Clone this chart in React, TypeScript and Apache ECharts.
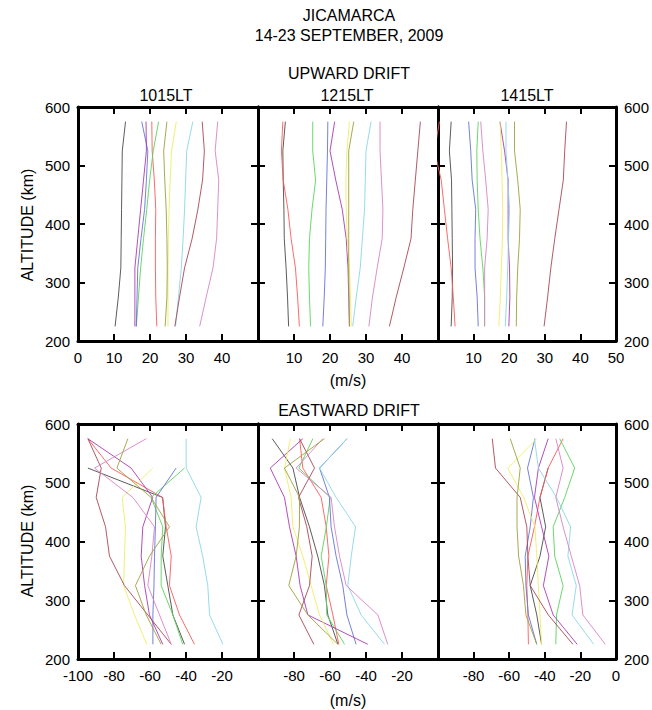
import React, { useEffect, useRef } from "react";
import * as echarts from "echarts";

// Altitudes (km) of profile samples, bottom to top
const ALTITUDES = [225, 275, 325, 375, 425, 475, 525, 575];

// Line colors, in order used by every panel's rows
const LINE_COLORS = [
  "#4a4a4a", // black
  "#ff5a5a", // red
  "#5cd45c", // green
  "#6674d4", // blue
  "#a83cb0", // purple
  "#eeee66", // yellow
  "#8cd6e8", // cyan
  "#a84858", // brown
  "#d884c8", // pink
  "#a0a040", // olive
];

// Upward drift (m/s)
const UP_1015 = [
  [10.3, 11.2, 11.9, 12.0, 12.1, 12.2, 12.3, 13.2],
  [21.9, 21.6, 21.5, 21.5, 21.6, 21.2, 20.6, 20.5],
  [16.2, 16.8, 17.4, 18.2, 19.1, 19.9, 20.9, 22.4],
  [16.2, 16.4, 16.6, 17.5, 18.5, 19.0, 19.4, 17.7],
  [15.8, 15.8, 15.8, 16.6, 17.4, 18.2, 19.0, 18.9],
  [25.0, 25.0, 25.0, 25.1, 25.3, 25.6, 26.0, 27.3],
  [27.1, 27.9, 28.7, 29.2, 29.6, 29.9, 30.2, 31.9],
  [26.9, 28.2, 29.6, 31.7, 33.3, 34.6, 35.1, 34.5],
  [33.8, 35.6, 37.5, 38.5, 38.8, 39.1, 38.1, 38.8],
  [24.2, 24.7, 24.8, 24.7, 24.5, 24.1, 23.8, 24.7],
];
const UP_1215 = [
  [8.5, 8.2, 7.8, 7.3, 7.2, 7.0, 6.9, 7.6],
  [11.5, 11.0, 10.4, 9.2, 8.3, 7.0, 6.5, 6.9],
  [14.6, 14.3, 14.1, 14.3, 15.0, 16.0, 15.2, 15.2],
  [18.0, 18.4, 18.7, 18.8, 18.9, 19.1, 19.3, 19.4],
  [25.4, 25.2, 25.0, 24.5, 23.4, 21.6, 20.0, 21.3],
  [25.9, 25.7, 25.4, 24.8, 24.5, 24.4, 24.7, 25.4],
  [26.3, 27.3, 28.4, 29.0, 29.6, 29.8, 30.0, 31.4],
  [36.5, 38.4, 40.5, 42.5, 43.0, 43.7, 44.4, 45.1],
  [30.8, 31.8, 33.1, 34.5, 34.7, 34.3, 33.9, 33.9],
  [25.4, 25.3, 25.2, 25.2, 25.2, 25.2, 25.2, 26.6],
];
const UP_1415 = [
  [3.7, 4.0, 4.1, 4.0, 3.9, 3.8, 3.2, 3.7],
  [4.8, 4.3, 3.7, 2.7, 1.8, 0.9, -1.0, 0.4],
  [13.1, 13.1, 12.6, 11.8, 11.3, 11.0, 10.9, 11.3],
  [11.3, 11.0, 10.4, 10.4, 10.6, 9.6, 9.2, 8.6],
  [19.9, 20.2, 20.1, 19.7, 19.7, 19.7, 18.7, 17.4],
  [17.1, 17.5, 17.8, 18.1, 18.2, 18.0, 17.8, 17.4],
  [18.9, 19.3, 19.6, 19.8, 20.1, 19.6, 19.1, 19.1],
  [29.8, 30.8, 31.7, 32.8, 34.0, 35.2, 35.6, 36.1],
  [13.1, 13.1, 13.1, 13.8, 14.1, 13.4, 12.6, 12.0],
  [22.0, 22.1, 22.4, 22.9, 23.1, 22.4, 21.5, 21.5],
];

// Eastward drift (m/s)
const EAST_1015 = [
  [-40.8, -47.3, -50.1, -52.9, -51.4, -53.0, -94.5, null],
  [-35.3, -43.6, -49.2, -48.2, -51.0, -53.0, -81.6, -94.5],
  [-41.8, -47.3, -53.8, -53.8, -52.9, -59.4, -40.8, null],
  [-58.4, -58.4, -57.8, -57.5, -57.0, -56.6, -45.5, null],
  [-52.9, -60.3, -63.0, -64.9, -64.0, -58.5, -70.5, -94.5],
  [-61.8, -68.6, -74.7, -74.2, -73.6, -75.5, -58.4, null],
  [-19.5, -26.9, -27.9, -30.7, -34.4, -31.6, -39.9, -39.9],
  [-48.2, -61.2, -74.2, -82.5, -84.7, -89.9, -87.1, -94.5],
  [-48.2, -54.7, -61.2, -59.0, -57.5, -69.5, -90.8, -62.1],
  [-53.8, -62.1, -68.1, -60.3, -49.2, -59.4, -78.4, -72.3],
];
const EAST_1215 = [
  [-55.6, -61.2, -63.1, -66.8, -71.4, -76.9, -80.6, -92.1],
  [-55.1, -58.4, -62.1, -60.6, -62.1, -64.9, -75.1, -76.9],
  [-51.9, -61.8, -62.1, -64.9, -62.0, -59.9, -77.3, -69.5],
  [-45.5, -50.6, -52.9, -56.6, -59.4, -60.3, -65.8, -50.5],
  [-39.0, -72.3, -76.6, -78.8, -82.5, -85.3, -93.2, -75.1],
  [-58.1, -65.8, -70.5, -75.1, -80.6, -81.6, -85.3, -82.0],
  [-29.7, -42.7, -50.1, -48.2, -45.8, -56.6, -65.8, -50.5],
  [-69.0, -77.3, -71.4, -69.9, -72.9, -77.5, -68.6, -76.9],
  [-27.9, -33.4, -51.0, -54.7, -57.5, -59.4, -78.8, -64.0],
  [-55.6, -72.3, -82.9, -78.8, -77.0, -76.9, -85.3, -63.1],
];
const EAST_1415 = [
  [-41.8, -44.5, -48.2, -42.7, -39.5, -42.7, -38.1, null],
  [-49.2, -49.5, -50.1, -49.5, -45.8, -42.7, -38.1, -29.7],
  [-33.8, -33.4, -29.7, -34.4, -35.3, -28.8, -23.2, -31.6],
  [-44.5, -49.2, -50.6, -51.0, -48.2, -46.4, -49.7, -45.5],
  [-21.8, -35.3, -40.8, -37.7, -41.8, -45.8, -43.6, -38.1],
  [-41.8, -42.7, -43.6, -44.5, -45.5, -51.9, -60.8, -44.5],
  [-12.5, -24.7, -22.3, -27.0, -25.5, -33.4, -43.6, -45.8],
  [-24.2, -38.0, -48.2, -49.5, -50.1, -53.8, -67.7, -69.5],
  [-6.0, -18.6, -20.4, -25.1, -29.7, -33.8, -29.7, -33.8],
  [-44.5, -50.6, -52.0, -54.7, -55.6, -55.6, -53.8, -59.4],
];

const PANEL_DATA = [UP_1015, UP_1215, UP_1415, EAST_1015, EAST_1215, EAST_1415];
const TIME_LABELS = ["1015LT", "1215LT", "1415LT"];
const UP_RANGE = [0, 50, 10];
const EAST_RANGE = [-100, 0, 20];

const FONT = "'Liberation Sans', Arial, sans-serif";

export default function App() {
  const ref = useRef<HTMLDivElement>(null);

  useEffect(() => {
    if (!ref.current) return;
    const chart = echarts.init(ref.current, null, { renderer: "svg" });

    const lefts = [78, 258, 438];
    const tops = [107, 424];
    const heights = [234, 235];
    const grids: any[] = [];
    const xAxes: any[] = [];
    const yAxes: any[] = [];
    const series: any[] = [];

    const axisLine = { show: true, onZero: false, lineStyle: { color: "#000", width: 3 } };
    const axisTick = { show: true, inside: true, length: 7, lineStyle: { color: "#000", width: 2 } };

    for (let p = 0; p < 6; p++) {
      const row = Math.floor(p / 3);
      const col = p % 3;
      grids.push({ left: lefts[col], top: tops[row], width: 180, height: heights[row] });
      const [mn, mx, step] = row === 0 ? UP_RANGE : EAST_RANGE;
      const showMin = col === 0;
      const showMax = col === 2;
      const base = {
        gridIndex: p,
        type: "value",
        min: mn,
        max: mx,
        interval: step,
        axisLine,
        axisTick,
        splitLine: { show: false },
      };
      xAxes.push({
        ...base,
        position: "bottom",
        axisLabel: {
          show: true,
          color: "#000",
          fontSize: 15,
          fontFamily: FONT,
          margin: 9,
          formatter: (v: number) => {
            if (v === mn && !showMin) return "";
            if (v === mx && !showMax) return "";
            return String(v);
          },
        },
      });
      xAxes.push({ ...base, position: "top", axisLabel: { show: false } });
      const ybase = {
        gridIndex: p,
        type: "value",
        min: 200,
        max: 600,
        interval: 100,
        axisLine,
        axisTick,
        splitLine: { show: false },
      };
      yAxes.push({
        ...ybase,
        position: "left",
        axisLabel: { show: col === 0, color: "#000", fontSize: 15, fontFamily: FONT, margin: 8 },
      });
      yAxes.push({
        ...ybase,
        position: "right",
        axisLabel: { show: col === 2, color: "#000", fontSize: 15, fontFamily: FONT, margin: 8 },
      });

      PANEL_DATA[p].forEach((vals, i) => {
        const pts: number[][] = [];
        vals.forEach((v, k) => {
          if (v !== null && v !== undefined) pts.push([v as number, ALTITUDES[k]]);
        });
        series.push({
          type: "line",
          xAxisIndex: p * 2,
          yAxisIndex: p * 2,
          data: pts,
          showSymbol: false,
          symbol: "none",
          clip: false,
          silent: true,
          lineStyle: { color: LINE_COLORS[i], width: 1, opacity: 0.9 },
        });
      });
    }

    const txt = (text: string, x: number, y: number, extra: any = {}) => ({
      type: "text",
      x,
      y,
      silent: true,
      ...extra,
      style: {
        text,
        fill: "#000",
        font: `16px ${FONT}`,
        align: "center",
        verticalAlign: "middle",
      },
    });

    const graphic: any[] = [
      txt("JICAMARCA", 349, 15),
      txt("14-23 SEPTEMBER, 2009", 349, 35),
      txt("UPWARD DRIFT", 349, 73),
      txt(TIME_LABELS[0], 166, 95),
      txt(TIME_LABELS[1], 347, 95),
      txt(TIME_LABELS[2], 527, 95),
      txt("(m/s)", 348, 380),
      txt("EASTWARD DRIFT", 349, 410),
      txt("(m/s)", 348, 700),
      txt("ALTITUDE (km)", 27, 225, { rotation: Math.PI / 2 }),
      txt("ALTITUDE (km)", 27, 541, { rotation: Math.PI / 2 }),
    ];

    chart.setOption({
      animation: false,
      backgroundColor: "#fff",
      grid: grids,
      xAxis: xAxes,
      yAxis: yAxes,
      series,
      graphic,
    });

    return () => chart.dispose();
  }, []);

  return (
    <div
      ref={ref}
      style={{ position: "absolute", left: 0, top: 0, width: 652, height: 710 }}
    />
  );
}
